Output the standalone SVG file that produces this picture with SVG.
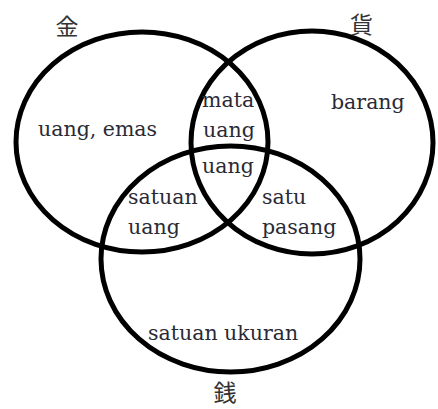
<svg xmlns="http://www.w3.org/2000/svg" width="438" height="409" viewBox="0 0 438 409">
<style>
.c{fill:none;stroke:#000;stroke-width:5}
.t{font-family:"DejaVu Serif","Liberation Serif",serif;font-size:20.5px;fill:#2a2a35}
.k{font-family:"Noto Sans CJK JP","Noto Sans CJK SC",sans-serif;font-size:23px;fill:#333;text-anchor:middle}
</style>
<rect width="438" height="409" fill="#fff"/>
<g id="set-kin">
<ellipse class="c" cx="142" cy="142" rx="126" ry="110"/>
<text class="k" x="67" y="35">金</text>
</g>
<g id="set-ka">
<ellipse class="c" cx="312" cy="142.5" rx="121" ry="111.5"/>
<text class="k" x="361.5" y="33">貨</text>
</g>
<g id="set-sen">
<ellipse class="c" cx="230.5" cy="259" rx="129.5" ry="113"/>
<text class="k" x="225" y="401">銭</text>
</g>
<g id="labels">
<text class="t" x="38" y="136">uang, emas</text>
<text class="t" x="331" y="109">barang</text>
<text class="t" x="202" y="107">mata</text>
<text class="t" x="203" y="137">uang</text>
<text class="t" x="202" y="173">uang</text>
<text class="t" x="128" y="203.5">satuan</text>
<text class="t" x="128" y="234">uang</text>
<text class="t" x="262" y="203.5">satu</text>
<text class="t" x="262" y="234">pasang</text>
<text class="t" x="148" y="340">satuan ukuran</text>
</g>
</svg>
